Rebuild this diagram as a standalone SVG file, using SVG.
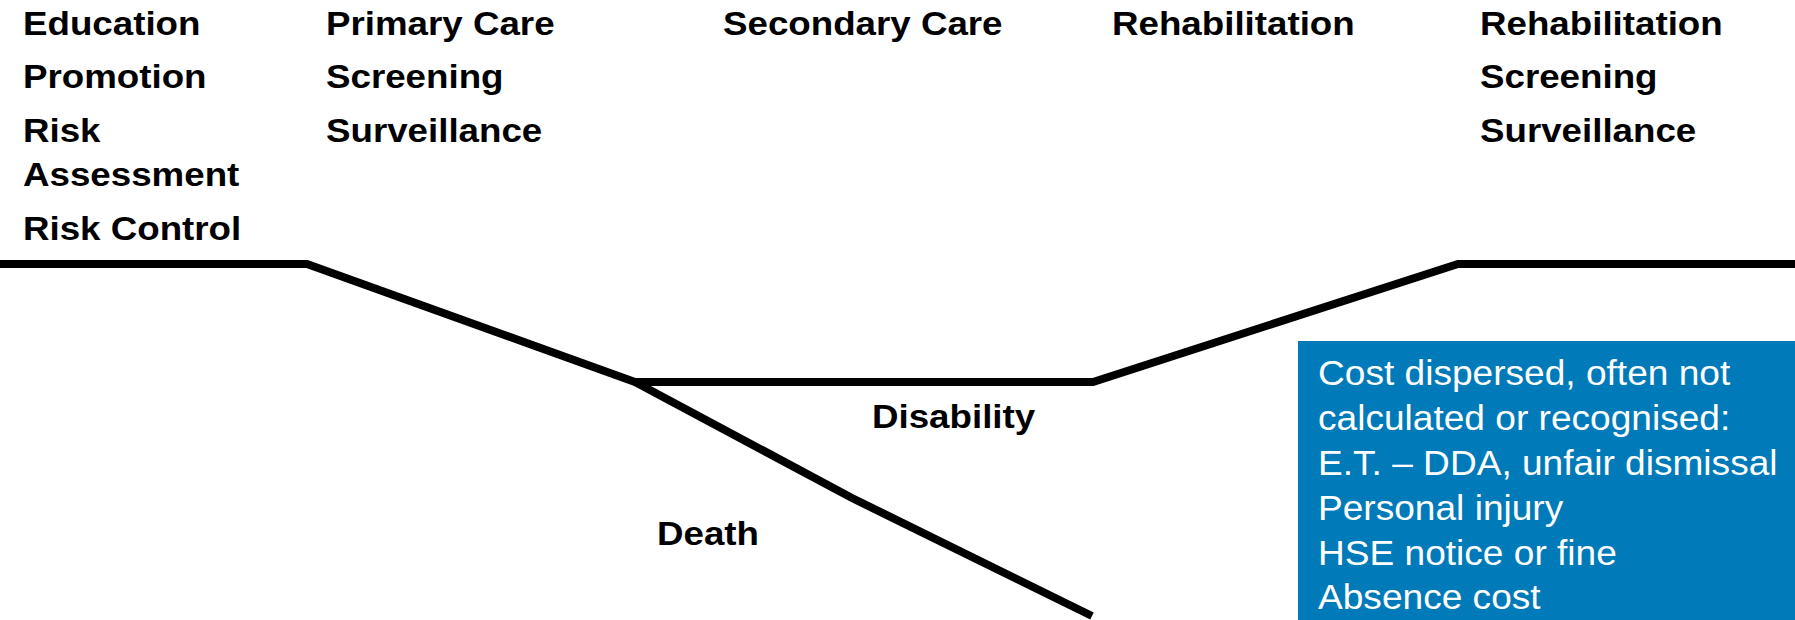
<svg xmlns="http://www.w3.org/2000/svg" width="1795" height="620" viewBox="0 0 1795 620">
<style>
.h{font-family:"Liberation Sans",Arial,sans-serif;font-weight:bold;font-size:34px;fill:#000}
.b{font-family:"Liberation Sans",Arial,sans-serif;font-size:35px;fill:#fff}
.ln{fill:none;stroke:#000;stroke-width:8;stroke-linejoin:miter;stroke-linecap:butt}
</style>
<rect width="1795" height="620" fill="#fff"/>
<g id="connectors">
<polyline class="ln" points="0,264 307,264 635,382 1093,382 1458,264 1795,264"/>
<polyline class="ln" points="635,382 852,498 1092,616"/>
</g>
<g id="col-prevention">
<text class="h" transform="translate(23,35) scale(1.08,1)">Education</text>
<text class="h" transform="translate(23,88) scale(1.08,1)">Promotion</text>
<text class="h" transform="translate(23,142) scale(1.08,1)">Risk</text>
<text class="h" transform="translate(23,186) scale(1.08,1)">Assessment</text>
<text class="h" transform="translate(23,240) scale(1.08,1)">Risk Control</text>
</g>
<g id="col-primary">
<text class="h" transform="translate(326,35) scale(1.08,1)">Primary Care</text>
<text class="h" transform="translate(326,88) scale(1.08,1)">Screening</text>
<text class="h" transform="translate(326,142) scale(1.08,1)">Surveillance</text>
</g>
<g id="col-secondary">
<text class="h" transform="translate(723,35) scale(1.08,1)">Secondary Care</text>
</g>
<g id="col-rehab">
<text class="h" transform="translate(1112,35) scale(1.08,1)">Rehabilitation</text>
</g>
<g id="col-rehab2">
<text class="h" transform="translate(1480,35) scale(1.08,1)">Rehabilitation</text>
<text class="h" transform="translate(1480,88) scale(1.08,1)">Screening</text>
<text class="h" transform="translate(1480,142) scale(1.08,1)">Surveillance</text>
</g>
<g id="label-disability">
<text class="h" transform="translate(872,428) scale(1.08,1)">Disability</text>
</g>
<g id="label-death">
<text class="h" transform="translate(657,545) scale(1.08,1)">Death</text>
</g>
<g id="cost-box">
<rect x="1298" y="341" width="497" height="279" fill="#007AB8"/>
<text class="b" transform="translate(1318,385) scale(1.06,1)">Cost dispersed, often not</text>
<text class="b" transform="translate(1318,430) scale(1.06,1)">calculated or recognised:</text>
<text class="b" transform="translate(1318,475) scale(1.06,1)">E.T. – DDA, unfair dismissal</text>
<text class="b" transform="translate(1318,520) scale(1.06,1)">Personal injury</text>
<text class="b" transform="translate(1318,565) scale(1.06,1)">HSE notice or fine</text>
<text class="b" transform="translate(1318,609) scale(1.06,1)">Absence cost</text>
</g>
</svg>
